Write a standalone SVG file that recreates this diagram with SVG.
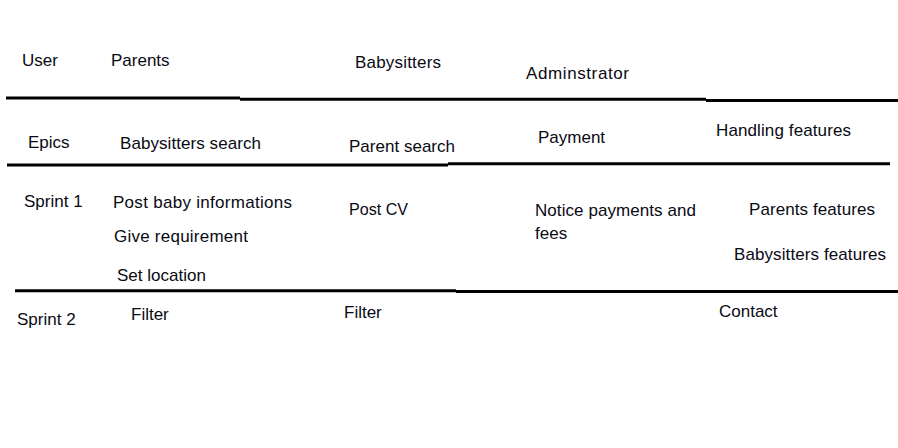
<svg xmlns="http://www.w3.org/2000/svg" width="898" height="448" viewBox="0 0 898 448">
<style>
text { font-family: "Liberation Sans", Arial, sans-serif; font-size: 17px; fill: #0a0a14; }
.rule { stroke: #000; stroke-width: 3; fill: none; }
</style>
<rect width="898" height="448" fill="#fff"/>
<g id="rules">
<line class="rule" x1="6" y1="98" x2="240" y2="98"/>
<line class="rule" x1="240" y1="99.3" x2="706" y2="99.3"/>
<line class="rule" x1="706" y1="100.6" x2="898" y2="100.6"/>
<line class="rule" x1="7" y1="165" x2="448" y2="165"/>
<line class="rule" x1="448" y1="163.7" x2="890" y2="163.7"/>
<line class="rule" x1="15" y1="290.8" x2="456" y2="290.8"/>
<line class="rule" x1="456" y1="291.6" x2="898" y2="291.6"/>
</g>
<g id="header-row">
<text x="22" y="66">User</text>
<text x="111" y="66">Parents</text>
<text x="355" y="68" textLength="86">Babysitters</text>
<text x="526" y="79" textLength="103">Adminstrator</text>
</g>
<g id="epics-row">
<text x="28" y="148">Epics</text>
<text x="120" y="149" textLength="141">Babysitters search</text>
<text x="349" y="152" textLength="106">Parent search</text>
<text x="538" y="143">Payment</text>
<text x="716" y="136" textLength="135">Handling features</text>
</g>
<g id="sprint1-row">
<text x="24" y="207">Sprint 1</text>
<text x="113" y="208" textLength="179">Post baby informations</text>
<text x="114" y="242" textLength="134">Give requirement</text>
<text x="117" y="281">Set location</text>
<text x="349" y="215" textLength="59" lengthAdjust="spacingAndGlyphs">Post CV</text>
<text x="535" y="216" textLength="161">Notice payments and</text>
<text x="535" y="239">fees</text>
<text x="749" y="215" textLength="126">Parents features</text>
<text x="734" y="260" textLength="152">Babysitters features</text>
</g>
<g id="sprint2-row">
<text x="17" y="325">Sprint 2</text>
<text x="131" y="320">Filter</text>
<text x="344" y="318">Filter</text>
<text x="719" y="317">Contact</text>
</g>
</svg>
